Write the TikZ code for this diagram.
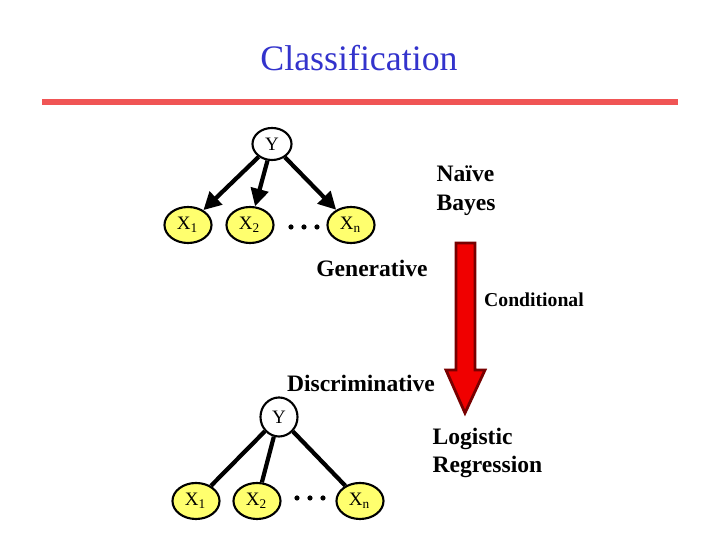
\documentclass[tikz,border=0pt]{standalone}
\usepackage{fontspec}
\setmainfont{Liberation Serif}
\usepackage{xcolor}
\usetikzlibrary{positioning, shapes.geometric, arrows.meta}

\definecolor{titleblue}{RGB}{51,51,204}
\definecolor{rulered}{RGB}{240,85,85}
\definecolor{nodeyellow}{RGB}{255,255,110}
\definecolor{arrowred}{RGB}{240,0,0}
\definecolor{darkred}{RGB}{120,0,0}

\tikzset{
  ynode/.style={ellipse, draw, line width=0.6pt, fill=white, inner sep=0pt,
    font=\fontsize{5.4pt}{6pt}\selectfont},
  xnode/.style={ellipse, draw, line width=0.6pt, fill=nodeyellow, inner sep=0pt,
    minimum width=0.47cm, minimum height=0.36cm,
    font=\fontsize{5.4pt}{6pt}\selectfont},
  bigtxt/.style={font=\fontsize{6.7pt}{8.2pt}\selectfont\bfseries},
  edge/.style={line width=1.2pt},
}

\begin{document}
\begin{tikzpicture}[x=0.01cm, y=-0.01cm]
      \useasboundingbox (0,0) rectangle (720,540);

      \node[text=titleblue, font=\fontsize{10.2pt}{12pt}\selectfont] (title) at (359,58) {Classification};
      \fill[rulered] (42,99) rectangle (678,105);

      % generative side
      \node[ynode, minimum width=0.39cm, minimum height=0.32cm] (ya) at (272,144) {Y};
      \node[xnode] (xa1) at (188,225) {X\textsubscript{1}};
      \node[xnode] (xa2) at (250,225) {X\textsubscript{2}};
      \node[xnode] (xan) at (351,225) {X\textsubscript{n}};
      \foreach \dx in {291,304,317} \fill (\dx,227) circle (2.6);

      \draw[edge, -{Triangle[length=5pt, width=5pt]}] (ya)--(xa1);
      \draw[edge, -{Triangle[length=5pt, width=5pt]}] (ya)--(xa2);
      \draw[edge, -{Triangle[length=5pt, width=5pt]}] (ya)--(xan);

      \node[bigtxt, align=left, anchor=west, inner sep=0pt] (nb) at (436,191) {Naïve\\Bayes};
      \node[bigtxt] (gen) at (372,268) {Generative};

      % the big arrow
      \filldraw[fill=arrowred, draw=darkred, line width=0.8pt]
        (456,243) -- (475,243) -- (475,370) -- (485,370) -- (465,413)
        -- (446,370) -- (456,370) -- cycle;
      \node[font=\fontsize{5.6pt}{7pt}\selectfont\bfseries] (cond) at (534,300) {Conditional};

      % discriminative side
      \node[bigtxt] (disc) at (361,383) {Discriminative};
      \node[ynode, minimum width=0.37cm, minimum height=0.39cm] (yb) at (279,417) {Y};
      \node[xnode] (xb1) at (196,501) {X\textsubscript{1}};
      \node[xnode] (xb2) at (257,501) {X\textsubscript{2}};
      \node[xnode] (xbn) at (360,501) {X\textsubscript{n}};
      \foreach \dx in {297,310,323} \fill (\dx,498) circle (2.6);

      \draw[edge] (yb)--(xb1);
      \draw[edge] (yb)--(xb2);
      \draw[edge] (yb)--(xbn);

      \node[bigtxt, align=left, anchor=west, inner sep=0pt] (lr) at (432,453) {Logistic\\Regression};
    \end{tikzpicture}
\end{document}
